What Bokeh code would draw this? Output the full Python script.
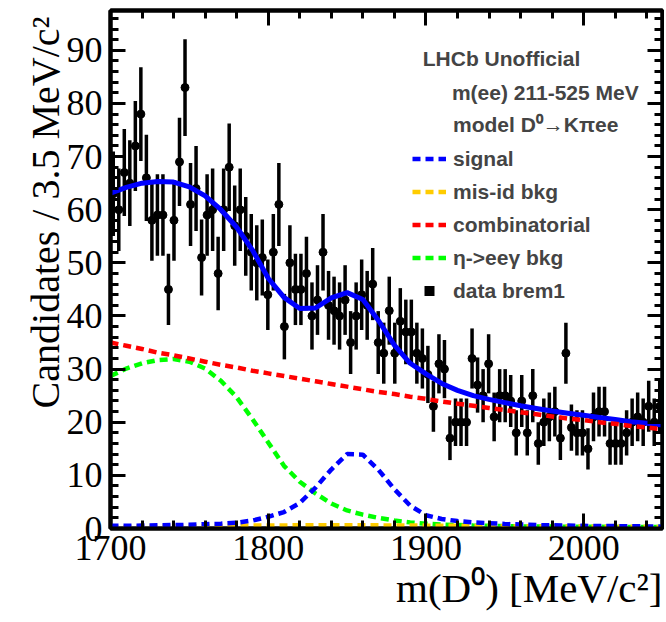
import numpy as np
from bokeh.plotting import figure
from bokeh.models import (Range1d, LinearAxis, Label, Legend, LegendItem, FixedTicker,
                          Title, ColumnDataSource)
from bokeh.embed import file_html
from bokeh.resources import INLINE

# ---------------- data ----------------
bin_width = 3.5
mass_lo, mass_hi = 1700.0, 2050.0
counts = [63, 60, 67, 65, 72, 78, 66, 58, 59, 59,
          45, 58, 69, 83, 61, 64, 51, 59, 60, 48,
          60, 68, 57, 60, 55, 52, 50, 51, 44, 52,
          61, 38, 50, 45, 45, 48, 40, 43, 52, 42,
          41, 40, 43, 35, 40, 44, 42, 46, 35, 33,
          41, 33, 39, 37, 37, 33, 32, 29, 23, 31,
          30, 17, 20, 20, 20, 32, 27, 25, 31, 21,
          25, 25, 24, 18, 24, 18, 25, 16, 20, 21,
          22, 17, 33, 19, 18, 18, 15, 21, 22, 22,
          16, 16, 16, 18, 20, 21, 20, 23, 20, 23]

curve_mass = list(range(1700, 2051, 10))
model_total = [63.1, 64.2, 65.0, 65.3, 65.2, 64.3, 62.6, 60.0, 56.7, 52.4,
               47.1, 43.5, 41.4, 41.5, 43.4, 44.4, 43.1, 39.1, 34.5, 31.1,
               29.1, 27.3, 26.0, 25.0, 24.3, 23.7, 23.1, 22.6, 22.1, 21.7,
               21.3, 20.9, 20.5, 20.1, 19.8, 19.5]
signal = [0.5, 0.5, 0.55, 0.6, 0.65, 0.7, 0.8, 0.9, 1.1, 1.5,
          2.2, 3.1, 4.8, 7.7, 11.1, 14.0, 13.9, 11.0, 7.4, 4.3,
          2.5, 1.8, 1.4, 1.15, 1.0, 0.85, 0.75, 0.65, 0.6, 0.55,
          0.5, 0.45, 0.45, 0.4, 0.4, 0.35]
misid = [0.2, 0.25, 0.3, 0.33, 0.36, 0.4, 0.44, 0.48, 0.52, 0.55,
         0.57, 0.58, 0.6, 0.6, 0.6, 0.6, 0.6, 0.59, 0.58, 0.56,
         0.54, 0.52, 0.5, 0.48, 0.46, 0.44, 0.42, 0.4, 0.38, 0.36,
         0.35, 0.34, 0.33, 0.32, 0.31, 0.3]
combinatorial = [35.0, 34.4, 33.8, 33.1, 32.6, 32.0, 31.4, 30.8, 30.3, 29.7,
                 29.2, 28.7, 28.2, 27.7, 27.2, 26.7, 26.2, 25.7, 25.3, 24.8,
                 24.4, 23.9, 23.5, 23.1, 22.7, 22.3, 21.9, 21.5, 21.1, 20.7,
                 20.4, 20.0, 19.7, 19.3, 19.0, 18.7]
eta_bkg = [28.7, 30.1, 31.1, 31.7, 31.9, 31.4, 30.1, 27.8, 24.7, 20.6,
           16.2, 11.8, 8.8, 6.6, 4.7, 3.4, 2.6, 2.0, 1.5, 1.15,
           0.9, 0.75, 0.65, 0.55, 0.5, 0.45, 0.4, 0.38, 0.36, 0.34,
           0.32, 0.31, 0.3, 0.29, 0.28, 0.28]

x_major = [1700, 1800, 1900, 2000]
x_minor = list(range(1700, 2051, 20))
y_major = list(range(0, 91, 10))
y_minor = list(range(0, 97, 2))

# ---------------- derived ----------------
counts_a = np.array(counts, dtype=float)
centers = mass_lo + bin_width * (np.arange(len(counts)) + 0.5)
err = np.sqrt(counts_a)
src = ColumnDataSource(dict(x=centers, y=counts_a, lo=counts_a - err, hi=counts_a + err))

SERIF = "Liberation Serif"
SANS = "Liberation Sans"

p = figure(width=664, height=620, x_range=Range1d(mass_lo, mass_hi),
           y_range=Range1d(0, 97.5), output_backend="svg",
           toolbar_location=None, min_border_left=110, min_border_right=2,
           min_border_top=10, min_border_bottom=92)
p.xgrid.visible = False
p.ygrid.visible = False
p.outline_line_color = "black"
p.outline_line_width = 4
p.background_fill_color = "white"


def style_axis(ax, labels=True, standoff=6):
    ax.axis_line_width = 4
    ax.axis_line_color = "black"
    ax.major_tick_line_width = 3
    ax.minor_tick_line_width = 3
    ax.major_tick_in = 15
    ax.major_tick_out = 0
    ax.minor_tick_in = 8
    ax.minor_tick_out = 0
    ax.major_label_text_font = SERIF
    if labels:
        ax.major_label_text_font_size = "36px"
        ax.major_label_text_color = "black"
        ax.major_label_standoff = standoff
    else:
        ax.major_label_text_font_size = "0px"
        ax.major_label_text_alpha = 0
        ax.major_label_text_color = None
        ax.major_label_standoff = 0


p.xaxis.ticker = FixedTicker(ticks=x_major, minor_ticks=x_minor)
p.yaxis.ticker = FixedTicker(ticks=y_major, minor_ticks=y_minor)
for ax in p.xaxis:
    style_axis(ax, standoff=7)
for ax in p.yaxis:
    style_axis(ax, standoff=8)

top_ax = LinearAxis(ticker=FixedTicker(ticks=x_major, minor_ticks=x_minor))
style_axis(top_ax, labels=False)
p.add_layout(top_ax, "above")
right_ax = LinearAxis(ticker=FixedTicker(ticks=y_major, minor_ticks=y_minor))
style_axis(right_ax, labels=False)
p.add_layout(right_ax, "right")

# axis titles (ROOT style: aligned to the axis end)
p.add_layout(Title(text="m(D\u2070) [MeV/c\u00b2]", align="right", text_font=SERIF,
                   text_font_size="41px", text_font_style="normal", text_color="black",
                   standoff=0), "below")
p.add_layout(Title(text="Candidates / 3.5 MeV/c\u00b2", align="right", text_font=SERIF,
                   text_font_size="40px", text_font_style="normal", text_color="black",
                   standoff=-8, offset=6), "left")

# data
seg = p.segment(x0="x", y0="lo", x1="x", y1="hi", source=src,
                line_color="black", line_width=3.5)
pts = p.scatter("x", "y", source=src, size=8, marker="circle",
                fill_color="black", line_color="black")

# curves
tot = p.line(curve_mass, model_total, line_color="#0000ff", line_width=5)
dash = "8 5"
r_eta = p.line(curve_mass, eta_bkg, line_color="#00ff00", line_width=4.5, line_dash=dash)
r_comb = p.line(curve_mass, combinatorial, line_color="#ff0000", line_width=4.5, line_dash=dash)
r_mis = p.line(curve_mass, misid, line_color="#ffcc00", line_width=4.5, line_dash=dash)
r_sig = p.line(curve_mass, signal, line_color="#0000ff", line_width=4.5, line_dash=dash)

# legend samples: zero-size square markers on the data (invisible in the plot);
# the legend draws its own sized copy
leg_model = p.line([], [], line_color="black", line_width=2)
leg_sq = p.scatter("x", "y", source=src, size=0, marker="square",
                   fill_color="black", line_color="black", line_width=0)

FS = "21px"
legend = Legend(items=[
    LegendItem(label="model D\u2070\u2192K\u03c0ee", renderers=[leg_model]),
    LegendItem(label="signal", renderers=[r_sig]),
    LegendItem(label="mis-id bkg", renderers=[r_mis]),
    LegendItem(label="combinatorial", renderers=[r_comb]),
    LegendItem(label="\u03b7->ee\u03b3 bkg", renderers=[r_eta]),
    LegendItem(label="data brem1", renderers=[leg_sq]),
], location=(302, 225), label_text_font=SANS, label_text_font_style="bold",
   label_text_font_size=FS, glyph_width=34, glyph_height=25,
   label_height=25, spacing=8, padding=0, margin=0, label_standoff=7,
   border_line_color=None, background_fill_alpha=0)
p.add_layout(legend)

p.add_layout(Label(x=1898, y=88.5, text="LHCb Unofficial", text_font=SANS,
                   text_font_style="bold", text_font_size=FS,
                   text_baseline="middle", text_align="left"))
p.add_layout(Label(x=1916.5, y=82.1, text="m(ee) 211-525 MeV", text_font=SANS,
                   text_font_style="bold", text_font_size=FS,
                   text_baseline="middle", text_align="left"))

open("out.html", "w").write(file_html(p, INLINE))
